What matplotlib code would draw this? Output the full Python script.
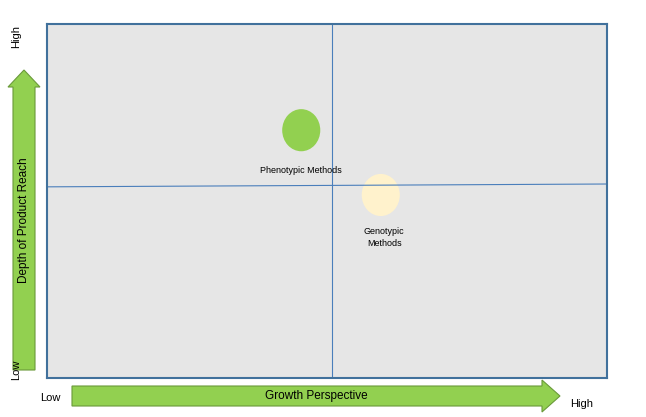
import matplotlib
matplotlib.use("Agg")
import matplotlib.pyplot as plt
from matplotlib.patches import Ellipse, FancyArrow

# quadrant data (axes fraction coords)
methods = ["Phenotypic Methods", "Genotypic\nMethods"]
growth = [0.454, 0.596]
depth = [0.70, 0.517]
colors = ["#92D050", "#FFF2CC"]
label_offset = [-0.115, -0.12]
x_axis_title = "Growth Perspective"
y_axis_title = "Depth of Product Reach"

W, H = 646, 417
fig = plt.figure(figsize=(W / 100, H / 100), dpi=100)

# overlay for arrows and outer labels, pixel coords
bg = fig.add_axes([0, 0, 1, 1])
bg.set_xlim(0, W)
bg.set_ylim(H, 0)
bg.axis("off")

green = "#92D050"
edge = "#6A9A3A"
bg.add_patch(FancyArrow(24, 370, 0, -300, width=22, head_width=32, head_length=17,
                        length_includes_head=True, fc=green, ec=edge, lw=0.8))
bg.add_patch(FancyArrow(72, 396, 488, 0, width=20, head_width=32, head_length=18,
                        length_includes_head=True, fc=green, ec=edge, lw=0.8))
bg.text(24, 220, y_axis_title, rotation=90, ha="center", va="center",
        fontsize=8.5, family="Liberation Sans")
bg.text(316, 396, x_axis_title, ha="center", va="center", fontsize=8.5,
        family="Liberation Sans")
bg.text(16, 36, "High", rotation=90, ha="center", va="center", fontsize=8,
        family="Liberation Sans")
bg.text(16, 370, "Low", rotation=90, ha="center", va="center", fontsize=8,
        family="Liberation Sans")
bg.text(50, 398, "Low", ha="center", va="center", fontsize=8, family="Liberation Sans")
bg.text(582, 404, "High", ha="center", va="center", fontsize=8, family="Liberation Sans")

# quadrant panel
x0, y0, x1, y1 = 47, 24, 607, 378
ax = fig.add_axes([x0 / W, 1 - y1 / H, (x1 - x0) / W, (y1 - y0) / H])
ax.set_facecolor("#E6E6E6")
ax.set_xlim(0, 1)
ax.set_ylim(0, 1)
ax.set_xticks([])
ax.set_yticks([])
for s in ax.spines.values():
    s.set_color("#41719C")
    s.set_linewidth(1.5)

ax.plot([0.509, 0.509], [0, 1], color="#4A7EBB", lw=0.8)
ax.plot([0, 1], [0.54, 0.548], color="#4A7EBB", lw=0.8)

for name, gx, dy, c, off in zip(methods, growth, depth, colors, label_offset):
    ax.add_patch(Ellipse((gx, dy), 0.068, 0.119, fc=c, ec="none"))
    ax.text(gx + (0.006 if "\n" in name else 0), dy + off, name, ha="center",
            va="center", fontsize=6.5, family="Liberation Sans", linespacing=1.3)

fig.savefig("out.png", dpi=100)
